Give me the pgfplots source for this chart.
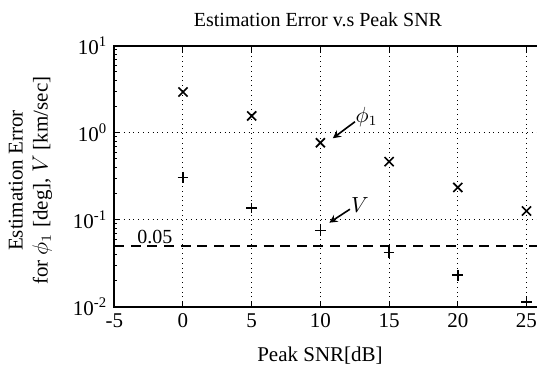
\documentclass[border=0pt]{standalone}
\usepackage{fontspec}
\setmainfont{Liberation Serif}
\usepackage{pgfplots}
\pgfplotsset{compat=1.18}
\begin{document}
\begin{tikzpicture}
\begin{axis}[
  scale only axis, width=240.45pt, height=130.5pt,
  xmin=-5, xmax=30, ymode=log, ymin=0.01, ymax=10,
  xtick={-5,0,5,10,15,20,25}, xticklabels={-5,0,5,10,15,20,25},
  ytick={0.01,0.1,1,10},
  yticklabels={10\textsuperscript{-2},10\textsuperscript{-1},10\textsuperscript{0},10\textsuperscript{1}},
  minor ytick={0.02,0.03,0.04,0.05,0.06,0.07,0.08,0.09,0.2,0.3,0.4,0.5,0.6,0.7,0.8,0.9,2,3,4,5,6,7,8,9},
  grid=major, major grid style={dotted, black, line width=0.5pt},
  tick align=inside, major tick length=3pt, minor tick length=1.5pt,
  tick style={black, line width=0.5pt},
  axis line style={line width=0.8pt},
  ticklabel style={font=\fontsize{10.5}{12}\selectfont},
]
\addplot[only marks, mark=x, mark size=3.2pt, mark options={line width=0.85pt}] coordinates {
  (0,2.94) (5,1.56) (10,0.767) (15,0.465) (20,0.235) (25,0.126)};
\addplot[only marks, mark=+, mark size=2.7pt, mark options={line width=0.8pt}] coordinates {
  (0,0.307) (5,0.136) (10,0.0748) (15,0.0422) (20,0.0230) (25,0.0114)};
\addplot[black, line width=1pt, dash pattern=on 5pt off 3.3pt] coordinates {(-5,0.05) (30,0.05)};
\node[anchor=south, inner sep=1pt, font=\fontsize{10}{12}\selectfont] at (axis cs:-2.04,0.05) {0.05};
\draw[-stealth, line width=0.8pt] (axis cs:12.52,1.338) -- (axis cs:10.9,0.863);
\node[font=\fontsize{10.5}{12}\selectfont] at (axis cs:13.37,1.53) {$\phi_1$};
\draw[-stealth, line width=0.8pt] (axis cs:12.15,0.132) -- (axis cs:10.65,0.0924);
\node[font=\fontsize{10.5}{12}\selectfont] at (axis cs:12.88,0.1476) {$V$};
\end{axis}
\node[font=\fontsize{10}{12}\selectfont] at (101.85pt,143.35pt) {Estimation Error v.s Peak SNR};
\node[font=\fontsize{10.5}{12}\selectfont] at (102.85pt,-24.65pt) {Peak SNR[dB]};
\node[rotate=90, align=center, font=\fontsize{10.5}{12.5}\selectfont] at (-41.9pt,63pt) {Estimation Error\\for $\phi_1$ [deg], $V$ [km/sec]};
\pgfresetboundingbox
\path[use as bounding box] (-57.15pt,-32.15pt) rectangle (211.35pt,153.35pt);
\end{tikzpicture}
\end{document}
